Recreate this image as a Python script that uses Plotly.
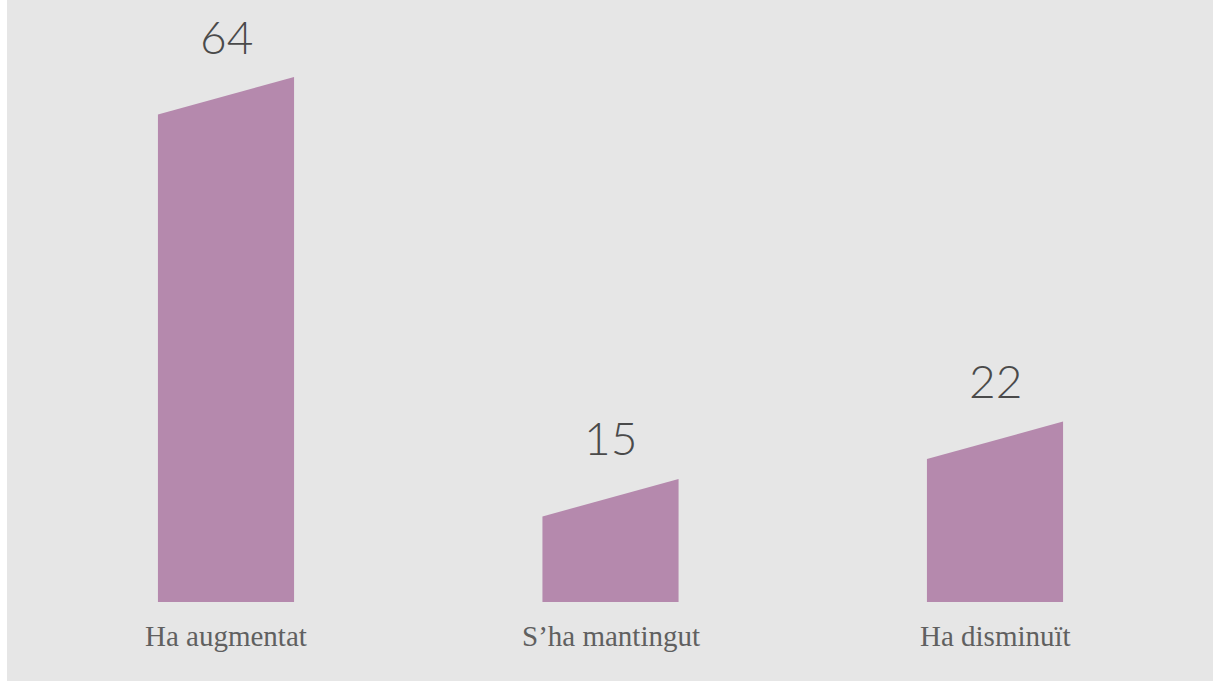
import plotly.graph_objects as go

categories = ["Ha augmentat", "S\u2019ha mantingut", "Ha disminu\u00eft"]
values = [64, 15, 22]

BG = "#e6e6e6"
BAR = "#b589ad"
W, H = 1213, 681
ML, MB = 7, 79
y_top = 73.39
bar_w = 0.354
slant_px = 37.5

plot_h = H - MB
unit_px = plot_h / y_top
slant = slant_px / unit_px

xs = list(range(len(categories)))
px_per_x = 384.5
x0 = 0 - (226 - ML) / px_per_x
x1 = 2 + (W - 995) / px_per_x

fig = go.Figure()
# bars with slanted tops, built from the values
for xi, v in zip(xs, values):
    xl, xr = xi - bar_w / 2, xi + bar_w / 2
    fig.add_trace(go.Scatter(
        x=[xl, xr, xr, xl, xl],
        y=[0, 0, v, v - slant, 0],
        fill="toself", fillcolor=BAR, mode="lines", line=dict(width=0, color=BAR),
        hoverinfo="skip", showlegend=False))

for xi, v, c in zip(xs, values, categories):
    fig.add_annotation(x=xi, y=v, text=str(v), showarrow=False, yshift=41, yanchor="middle",
                       font=dict(family="Lato", size=46, color="#4a4a4a", weight=300))
    fig.add_annotation(x=xi, y=0, text=c, showarrow=False, yshift=-34, yanchor="middle",
                       font=dict(family="Liberation Serif", size=29, color="#606060"))

fig.add_shape(type="rect", xref="paper", yref="paper", x0=-ML / (W - ML) - 0.01, x1=0,
              y0=-0.5, y1=1.5, fillcolor="white", line=dict(width=0), layer="below")

fig.update_layout(
    width=W, height=H, showlegend=False,
    paper_bgcolor=BG, plot_bgcolor=BG,
    margin=dict(l=ML, r=0, t=0, b=MB),
    xaxis=dict(range=[x0, x1], visible=False, fixedrange=True),
    yaxis=dict(range=[0, y_top], visible=False, fixedrange=True),
)
fig.write_html(
    "out.html",
    config={"displayModeBar": False},
    post_script="document.body.style.margin='0';document.body.style.overflow='hidden';"
                "document.body.style.background='" + BG + "';",
)
